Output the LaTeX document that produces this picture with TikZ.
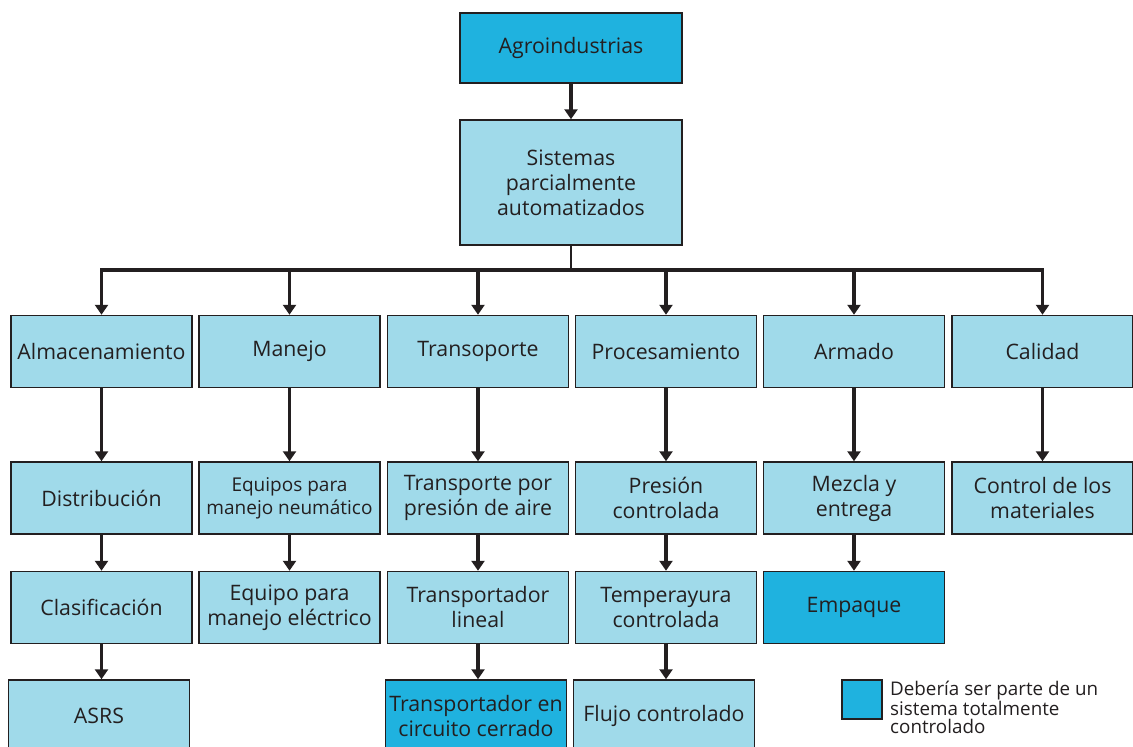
\documentclass[tikz,border=0pt]{standalone}
\usepackage{fontspec}
\setmainfont{Open Sans}
\usetikzlibrary{arrows.meta}
\definecolor{lightbox}{HTML}{A0DAEA}
\definecolor{darkbox}{HTML}{1FB2DF}
\definecolor{ink}{HTML}{231F20}
\tikzset{
  box/.style={draw=ink, line width=1.5pt, fill=lightbox, minimum width=181pt,
    minimum height=72pt, inner sep=0pt, align=center, text=ink,
    font=\fontsize{21.3}{25}\selectfont},
  keybox/.style={box, fill=darkbox},
  flow/.style={draw=ink, line width=3.6pt, -{Triangle[width=13pt,length=10pt]}},
  busline/.style={draw=ink, line width=3.6pt, line cap=rect},
}
\begin{document}
\begin{tikzpicture}[x=1pt,y=-1pt]
\clip (0,0) rectangle (1133,747);
\useasboundingbox (0,0) rectangle (1133,747);

% top of the hierarchy
\node[keybox, minimum width=222pt, minimum height=70pt] (agro) at (571,48) {Agroindustrias};
\node[box, minimum width=222pt, minimum height=125pt] (sis) at (571,182.5) {Sistemas\\parcialmente\\automatizados};

% first level
\node[box] (alm) at (101.5,351.5) {Almacenamiento};
\node[box] (man) at (289.5,351.5) {Manejo};
\node[box] (tra) at (478,351.5) {Transoporte};
\node[box] (pro) at (666,351.5) {Procesamiento};
\node[box] (arm) at (854,351.5) {Armado};
\node[box] (cal) at (1042.5,351.5) {Calidad};

% second level
\node[box] (dis) at (101.5,498) {Distribución};
\node[box, font=\fontsize{19}{23}\selectfont] (neu) at (289.5,498) {Equipos para\\manejo neumático};
\node[box] (tpa) at (478,498) {Transporte por\\presión de aire};
\node[box] (prc) at (666,498) {Presión\\controlada};
\node[box] (mez) at (854,498) {Mezcla y\\entrega};
\node[box] (con) at (1042.5,498) {Control de los\\materiales};

% third level
\node[box] (cla) at (101.5,607.5) {Clasificación};
\node[box] (ele) at (289.5,607.5) {Equipo para\\manejo eléctrico};
\node[box] (lin) at (478,607.5) {Transportador\\lineal};
\node[box] (tem) at (666,607.5) {Temperayura\\controlada};
\node[keybox] (emp) at (854,607.5) {Empaque};

% fourth level
\node[box] (asr) at (99,716) {ASRS};
\node[keybox] (cir) at (476,716) {Transportador en\\circuito cerrado};
\node[box] (flu) at (664,716) {Flujo controlado};

% connectors
\draw[flow] (agro) -- (sis);
\coordinate (bus) at (571,270);
\draw[draw=ink, line width=1.2pt] (sis.south) -- (bus);
\draw[busline] (alm.north |- bus) -- (cal.north |- bus);
\foreach \n in {alm,man,tra,pro,arm,cal}
  \draw[flow] (\n.north |- bus) -- (\n.north);
\foreach \a/\b in {alm/dis,man/neu,tra/tpa,pro/prc,arm/mez,cal/con,
                   dis/cla,neu/ele,tpa/lin,prc/tem,mez/emp}
  \draw[flow] (\a) -- (\b);
\foreach \a/\b in {cla/asr,lin/cir,tem/flu}
  \draw[flow] (\a.south) -- (\a.south |- \b.north);

% legend
\node[keybox, minimum width=40pt, minimum height=39pt] (key) at (862,699.5) {};
\node[anchor=north west, inner sep=0pt, align=left, text=ink,
      font=\fontsize{18.8}{18.5}\selectfont] (keytext) at (890,681)
  {Debería ser parte de un\\sistema totalmente\\controlado};
\end{tikzpicture}
\end{document}
